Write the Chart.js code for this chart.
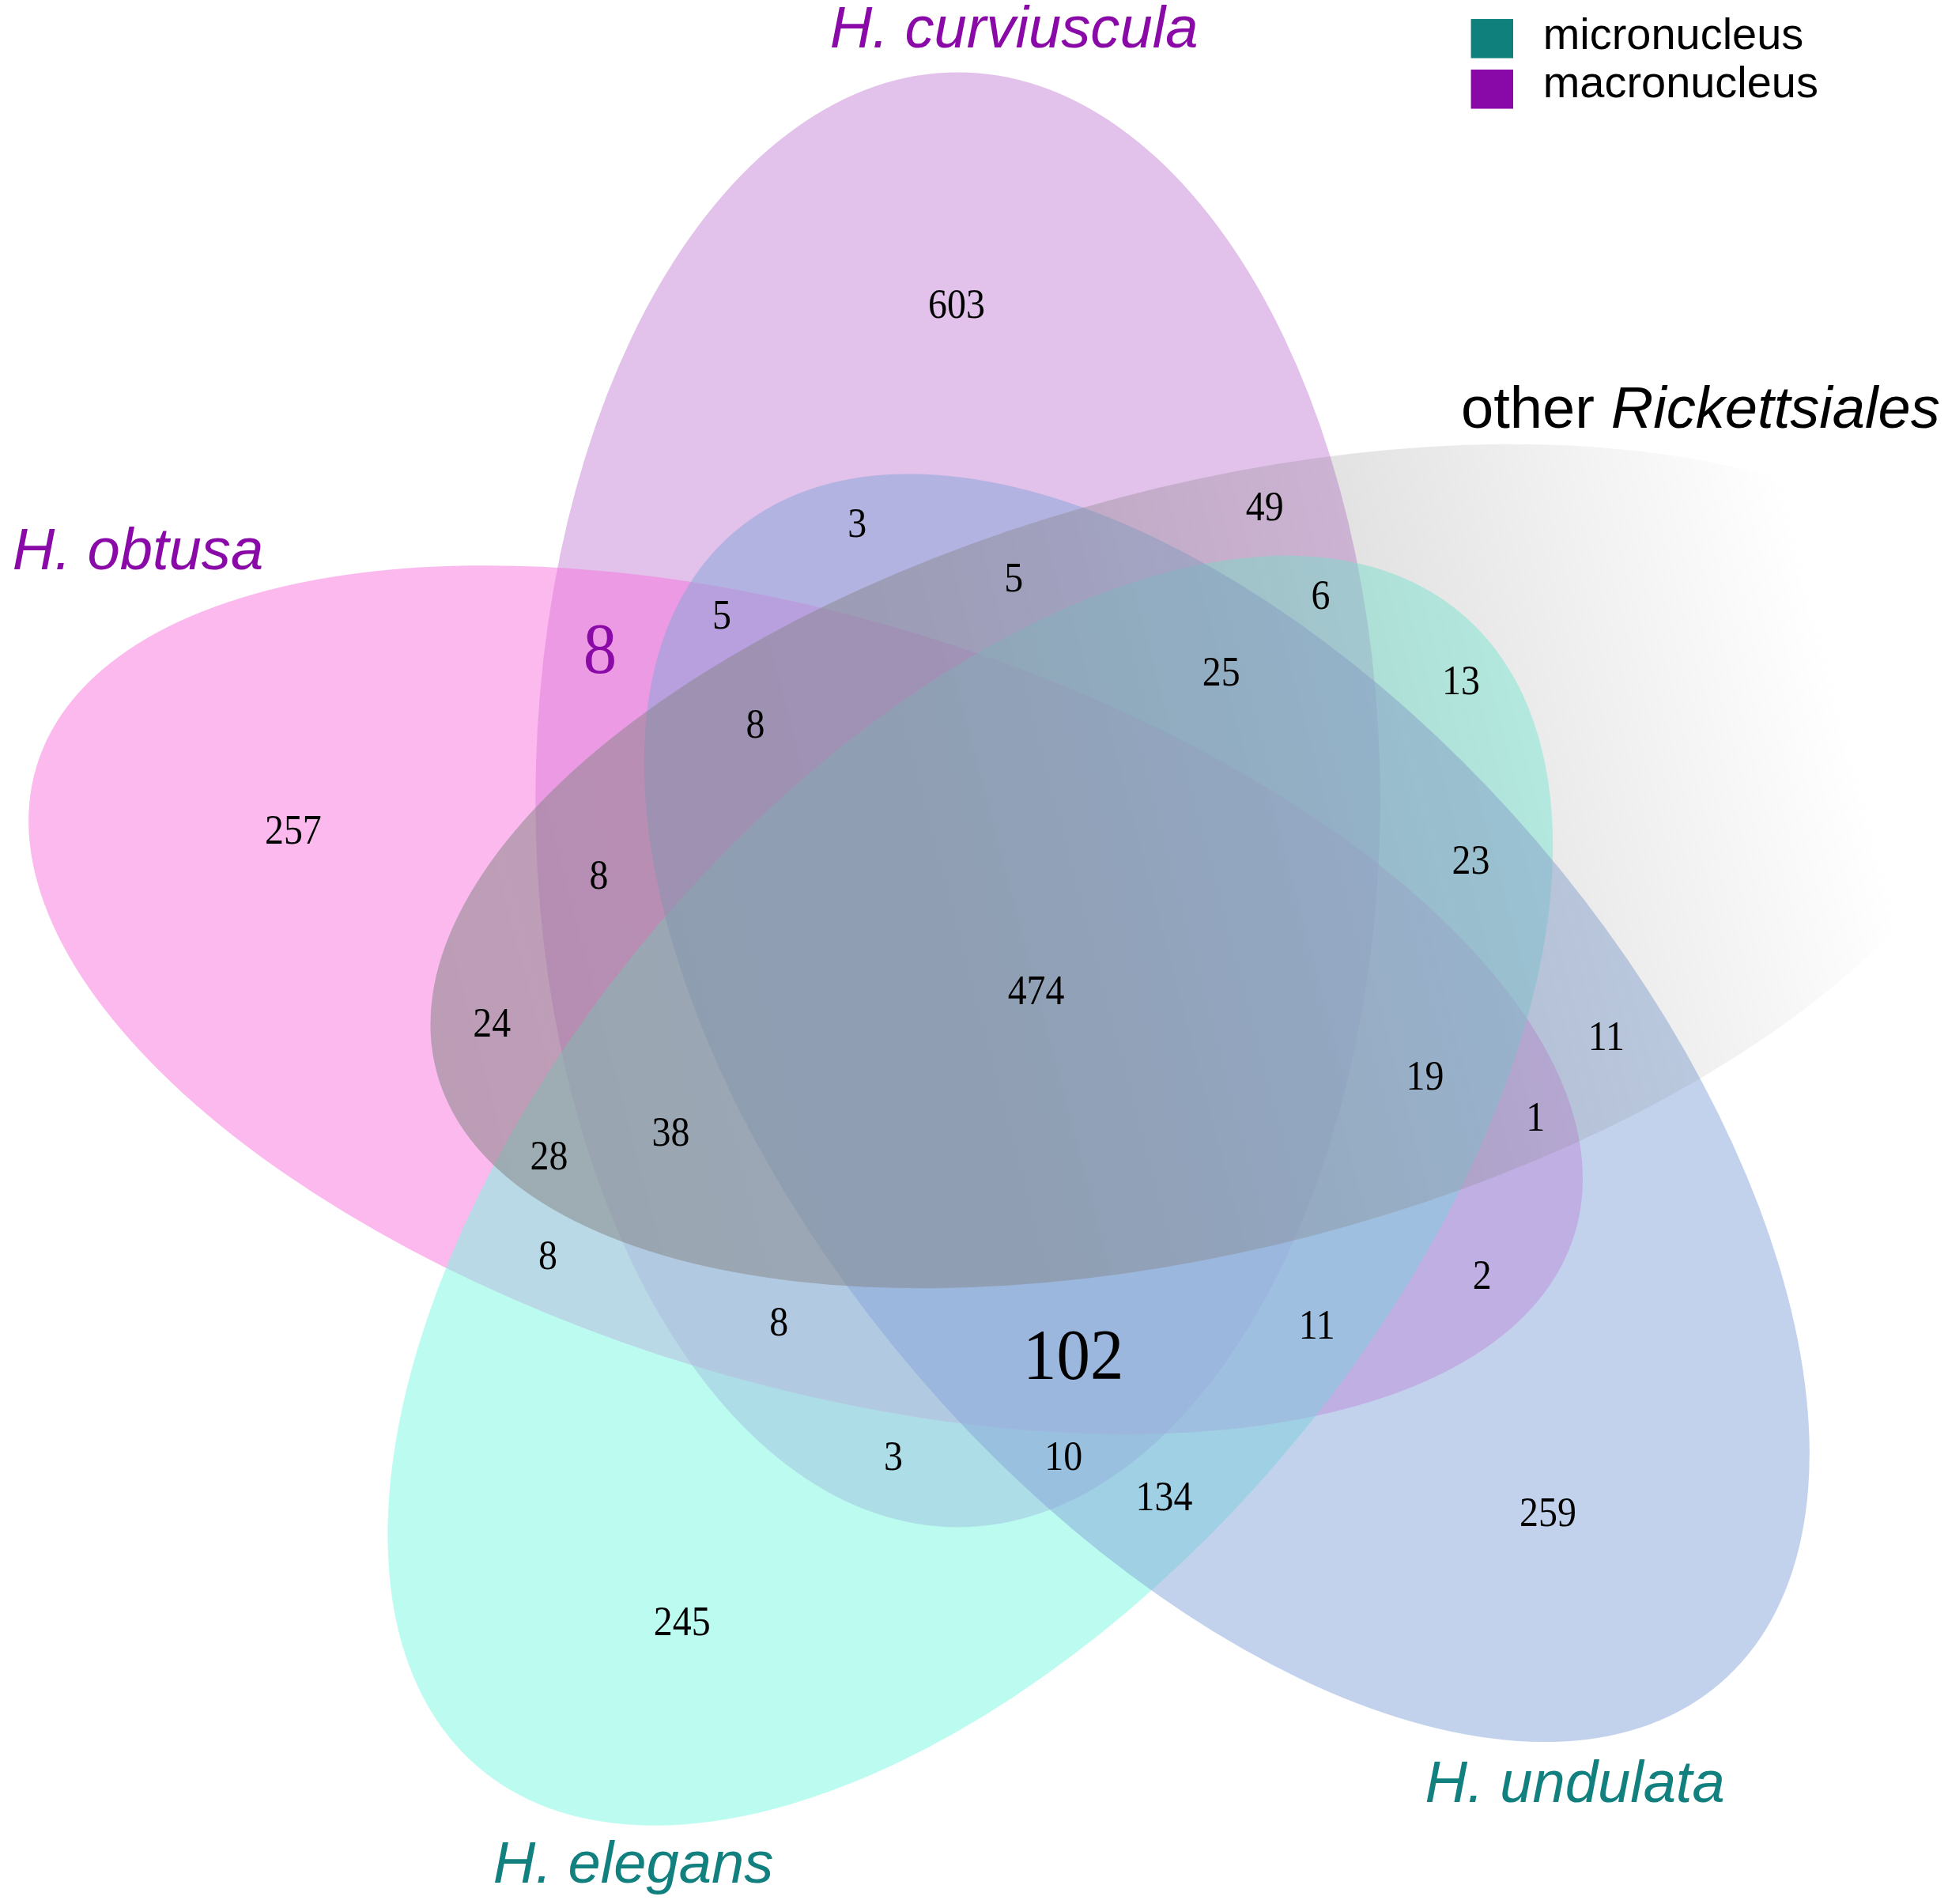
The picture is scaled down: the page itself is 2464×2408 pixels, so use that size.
<!DOCTYPE html>
<html>
<head>
<meta charset="utf-8">
<title>Rickettsiales Venn</title>
<script src="https://cdn.jsdelivr.net/npm/chart.js"></script>
<style>
  html, body { margin: 0; padding: 0; background: #ffffff; }
  #wrap { width: 2464px; height: 2408px; position: relative; }
</style>
</head>
<body>
<div id="wrap"><canvas id="venn"></canvas></div>
<script>
// ================= DATA =================
const setNames = ["H. curviuscula", "H. obtusa", "other ", "H. undulata", "H. elegans"];
const setNameItalicTail = ["", "", "Rickettsiales", "", ""];
const legendLabels = ["micronucleus", "macronucleus"];
const regionCounts = [603, 49, 3, 5, 6, 5, 8, 25, 13, 8, 257, 23, 8, 474, 24, 11, 19, 1, 38, 28, 8, 2, 8, 11, 102, 3, 10, 134, 259, 245];
const bigRegions = [6, 24];

// ================= LAYOUT (picture units, 1568 x 1532) =================
const VIEW_W = 1568;
const VIEW_H = 1532;

const regionPos = [
  [770, 245], [1018, 408], [690, 421], [816, 465], [1063, 479],
  [581, 495], [483, 522], [983, 541], [1176, 548], [608, 583],
  [236, 668], [1184, 692], [482, 704], [834, 797], [396, 823],
  [1293, 834], [1147, 866], [1236, 899], [540, 911], [442, 930],
  [441, 1010], [1193, 1026], [627, 1064], [1060, 1066], [864, 1090],
  [719, 1172], [856, 1172], [937, 1204], [1246, 1217], [549, 1305]
];

// purple, pink, green, blue, grey (drawing order)
const ellipses = [
  { cx: 771, cy: 643.5, rx: 585.5, ry: 340, rot: 90, fill: "rgba(197,131,215,0.5)" },
  { cx: 648.5, cy: 804.5, rx: 647, ry: 308, rot: 16.9, fill: "rgba(247,115,221,0.5)" },
  { cx: 781, cy: 958, rx: 610, ry: 330, rot: -49.5, fill: "rgba(121,249,225,0.5)" },
  { cx: 987.5, cy: 891.5, rx: 610, ry: 329, rot: 49.4, fill: "rgba(133,165,217,0.5)" },
  { cx: 980, cy: 697, rx: 650, ry: 307, rot: -14.7, fade: true }
];

const nameLayout = [
  { x: 668, y: 38, color: "#8a0aa8" },
  { x: 10, y: 458, color: "#8a0aa8" },
  { x: 1176, y: 344, color: "#000000" },
  { x: 1147, y: 1450, color: "#11807e" },
  { x: 397, y: 1515, color: "#11807e" }
];
const legendColors = ["#10807c", "#8808a8"];

const NUM_FONT = "'Liberation Serif', 'Times New Roman', serif";
const SANS_FONT = "'Liberation Sans', Arial, sans-serif";

// ================= PLUGINS =================
function unitPx(chart) {
  const sx = chart.scales.x;
  return Math.abs(sx.getPixelForValue(1) - sx.getPixelForValue(0));
}

const ellipsePlugin = {
  id: "vennEllipses",
  beforeDatasetsDraw(chart) {
    const { ctx, scales } = chart;
    const k = unitPx(chart);
    ellipses.forEach(e => {
      const px = scales.x.getPixelForValue(e.cx);
      const py = scales.y.getPixelForValue(e.cy);
      ctx.save();
      ctx.translate(px, py);
      ctx.rotate(e.rot * Math.PI / 180);
      ctx.beginPath();
      ctx.ellipse(0, 0, e.rx * k, e.ry * k, 0, 0, Math.PI * 2);
      if (e.fade) {
        // grey set fades out towards its right end
        const g = ctx.createLinearGradient(-e.rx * k, 0, e.rx * k, 0);
        g.addColorStop(0, "rgba(130,130,130,0.52)");
        g.addColorStop(0.35, "rgba(130,130,130,0.45)");
        g.addColorStop(0.62, "rgba(130,130,130,0.24)");
        g.addColorStop(0.78, "rgba(130,130,130,0.1)");
        g.addColorStop(0.9, "rgba(130,130,130,0)");
        g.addColorStop(1, "rgba(130,130,130,0)");
        ctx.fillStyle = g;
      } else {
        ctx.fillStyle = e.fill;
      }
      ctx.fill();
      ctx.restore();
    });
  }
};

const labelPlugin = {
  id: "vennLabels",
  afterDatasetsDraw(chart) {
    const { ctx, scales } = chart;
    const k = unitPx(chart);
    const meta = chart.getDatasetMeta(0);

    // region counts (slightly tall serif digits, as in the figure)
    ctx.save();
    ctx.textAlign = "center";
    ctx.textBaseline = "alphabetic";
    meta.data.forEach((pt, i) => {
      const big = bigRegions.includes(i);
      const size = (big ? 54 : 30.5) * k;
      const stretch = 1.08;
      ctx.save();
      ctx.translate(pt.x, pt.y + size * 0.33 * stretch);
      ctx.scale(1, stretch);
      ctx.font = size + "px " + NUM_FONT;
      ctx.fillStyle = (i === 6) ? "#8a0aa8" : "#000000";
      ctx.fillText(String(regionCounts[i]), 0, 0);
      ctx.restore();
    });
    ctx.restore();

    // set names
    ctx.save();
    ctx.textAlign = "left";
    ctx.textBaseline = "alphabetic";
    setNames.forEach((name, i) => {
      const lay = nameLayout[i];
      const px = scales.x.getPixelForValue(lay.x);
      const py = scales.y.getPixelForValue(lay.y);
      const size = 47.2 * k;
      ctx.fillStyle = lay.color;
      if (setNameItalicTail[i]) {
        ctx.font = size + "px " + SANS_FONT;
        ctx.fillText(name, px, py);
        const w = ctx.measureText(name).width;
        ctx.font = "italic " + size + "px " + SANS_FONT;
        ctx.fillText(setNameItalicTail[i], px + w, py);
      } else {
        ctx.font = "italic " + size + "px " + SANS_FONT;
        ctx.fillText(name, px, py);
      }
    });
    ctx.restore();

    // legend
    ctx.save();
    const boxX = scales.x.getPixelForValue(1184);
    const boxW = 34 * k;
    const boxTops = [15.3, 56];
    const textBase = [39.5, 78.3];
    legendLabels.forEach((lab, i) => {
      const top = scales.y.getPixelForValue(boxTops[i]);
      ctx.fillStyle = legendColors[i];
      ctx.fillRect(boxX, top, boxW, 31.5 * k);
      ctx.fillStyle = "#000000";
      ctx.font = (35.6 * k) + "px " + SANS_FONT;
      ctx.textAlign = "left";
      ctx.textBaseline = "alphabetic";
      ctx.fillText(lab, scales.x.getPixelForValue(1242), scales.y.getPixelForValue(textBase[i]));
    });
    ctx.restore();
  }
};

// ================= CHART =================
const ctx = document.getElementById("venn").getContext("2d");

new Chart(ctx, {
  type: "scatter",
  data: {
    datasets: [{
      label: "regions",
      data: regionCounts.map((v, i) => ({ x: regionPos[i][0], y: regionPos[i][1] })),
      pointRadius: 0,
      pointHoverRadius: 0
    }]
  },
  options: {
    responsive: true,
    maintainAspectRatio: false,
    animation: false,
    layout: { padding: 0 },
    plugins: {
      legend: { display: false },
      tooltip: { enabled: false }
    },
    scales: {
      x: { type: "linear", min: 0, max: VIEW_W, display: false },
      y: { type: "linear", min: 0, max: VIEW_H, reverse: true, display: false }
    }
  },
  plugins: [ellipsePlugin, labelPlugin]
});
</script>
</body>
</html>
